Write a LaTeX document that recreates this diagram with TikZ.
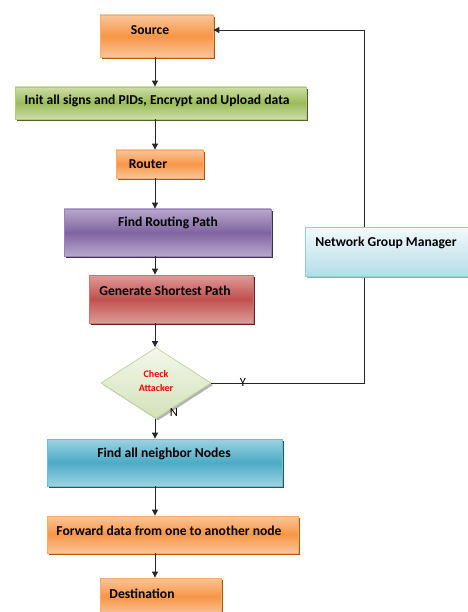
\documentclass[tikz,border=0pt]{standalone}
\usepackage{fontspec}
\setmainfont{Carlito}
\usetikzlibrary{shapes.geometric,arrows.meta,shadows}
\definecolor{orL}{HTML}{FAC59A}
\definecolor{orM}{HTML}{F79646}
\definecolor{orD}{HTML}{B65708}
\definecolor{grL}{HTML}{CDDDA8}
\definecolor{grM}{HTML}{9BBB59}
\definecolor{grD}{HTML}{4F6228}
\definecolor{puL}{HTML}{B8A8CC}
\definecolor{puM}{HTML}{8064A2}
\definecolor{puD}{HTML}{3F3151}
\definecolor{reL}{HTML}{DE9C9A}
\definecolor{reM}{HTML}{C0504D}
\definecolor{reD}{HTML}{632523}
\definecolor{blL}{HTML}{9CD3E2}
\definecolor{blM}{HTML}{4BACC6}
\definecolor{blD}{HTML}{215968}
\definecolor{cyT}{HTML}{F2FAFC}
\definecolor{cyB}{HTML}{B4DCE7}
\definecolor{cyE}{HTML}{93CDDD}
\definecolor{diT}{HTML}{F4F7EC}
\definecolor{diB}{HTML}{D3E1B8}
\definecolor{diE}{HTML}{C3D69B}
\definecolor{lineC}{HTML}{262626}
\tikzset{
  boxbase/.style={rectangle, inner sep=0pt, line width=0.8pt},
  orbox/.style={boxbase, draw=orM!80!white, top color=orL, bottom color=orL, middle color=orM,
    drop shadow={shadow xshift=2pt, shadow yshift=-2pt, fill=orD, opacity=1}},
  grbox/.style={boxbase, draw=grM!80!white, top color=grL, bottom color=grL, middle color=grM,
    drop shadow={shadow xshift=2pt, shadow yshift=-2pt, fill=grD, opacity=1}},
  pubox/.style={boxbase, draw=puM!80!white, top color=puL, bottom color=puL, middle color=puM,
    drop shadow={shadow xshift=2pt, shadow yshift=-2pt, fill=puD, opacity=1}},
  rebox/.style={boxbase, draw=reM!80!white, top color=reL, bottom color=reL, middle color=reM,
    drop shadow={shadow xshift=2pt, shadow yshift=-2pt, fill=reD, opacity=1}},
  blbox/.style={boxbase, draw=blM!80!white, top color=blL, bottom color=blL, middle color=blM,
    drop shadow={shadow xshift=2pt, shadow yshift=-2pt, fill=blD, opacity=1}},
  cybox/.style={boxbase, draw=cyE, top color=cyT, bottom color=cyB,
    drop shadow={shadow xshift=2pt, shadow yshift=-2pt, fill=gray!70, opacity=1}},
  lbl/.style={font=\fontsize{13.6}{15}\selectfont\bfseries, text=black, inner sep=0pt},
  flow/.style={draw=lineC, line width=0.9pt, -{Triangle[length=6pt,width=6pt]}},
}
\begin{document}
\begin{tikzpicture}[x=1pt,y=-1pt]
\useasboundingbox (0,0) rectangle (467,612);
\coordinate (ax) at (155,0);
\coordinate (fb) at (364,0);
% boxes
\node[orbox, minimum width=113pt, minimum height=42pt] (src) at (156.5,36) {};
\node[grbox, minimum width=291pt, minimum height=32pt] (init) at (160.5,103) {};
\node[orbox, minimum width=87pt, minimum height=28pt] (rt) at (159.5,164) {};
\node[pubox, minimum width=207pt, minimum height=47pt] (frp) at (167.5,232.5) {};
\node[rebox, minimum width=164pt, minimum height=48pt] (gsp) at (171,299) {};
\node[diamond, inner sep=0pt, minimum width=110pt, minimum height=71pt, draw=diE, line width=0.8pt,
  top color=diT, bottom color=diB,
  drop shadow={shadow xshift=2pt, shadow yshift=-2pt, fill=gray!60, opacity=1}] (dia) at (156,383) {};
\node[blbox, minimum width=235pt, minimum height=47pt] (fan) at (164.5,462.5) {};
\node[orbox, minimum width=251pt, minimum height=37pt] (fwd) at (172.5,534.5) {};
\node[orbox, minimum width=121pt, minimum height=37pt] (dst) at (160.5,596.5) {};
% feedback line
\coordinate (srcin) at ([yshift=6pt]src.east);
\draw[flow] (dia.east) -- (dia.east -| fb) -- (srcin -| fb) -- (srcin);
\node[cybox, minimum width=165pt, minimum height=49pt] (ngm) at (387.5,251.5) {};
% labels
\node[lbl] (tsrc) at (150,30) {Source};
\node[lbl] (tinit) at (157,101) {Init all signs and PIDs, Encrypt and Upload data};
\node[lbl] (trt) at (148,164) {Router};
\node[lbl] (tfrp) at (168,223) {Find Routing Path};
\node[lbl] (tgsp) at (165,291) {Generate Shortest Path};
\node[lbl] (tngm) at (386,243) {Network Group Manager};
\node[lbl] (tfan) at (164,454) {Find all neighbor Nodes};
\node[lbl] (tfwd) at (169,531) {Forward data from one to another node};
\node[lbl] (tdst) at (142,594) {Destination};
\node[font=\fontsize{10}{14}\selectfont\bfseries, text=red, align=center, inner sep=0pt] (tdia) at (156,381.5) {Check\\Attacker};
\node[font=\fontsize{12.5}{14}\selectfont, inner sep=0pt] (ty) at (243,382) {Y};
\node[font=\fontsize{12.5}{14}\selectfont, inner sep=0pt] (tn) at (174,412) {N};
% arrows
\draw[flow] (src.south -| ax) -- (init.north -| ax);
\draw[flow] (init.south -| ax) -- (rt.north -| ax);
\draw[flow] (rt.south -| ax) -- (frp.north -| ax);
\draw[flow] (frp.south -| ax) -- (gsp.north -| ax);
\draw[flow] (gsp.south -| ax) -- (dia.north -| ax);
\draw[flow] (dia.south -| ax) -- (fan.north -| ax);
\draw[flow] (fan.south -| ax) -- (fwd.north -| ax);
\draw[flow] (fwd.south -| ax) -- (dst.north -| ax);
\end{tikzpicture}
\end{document}
